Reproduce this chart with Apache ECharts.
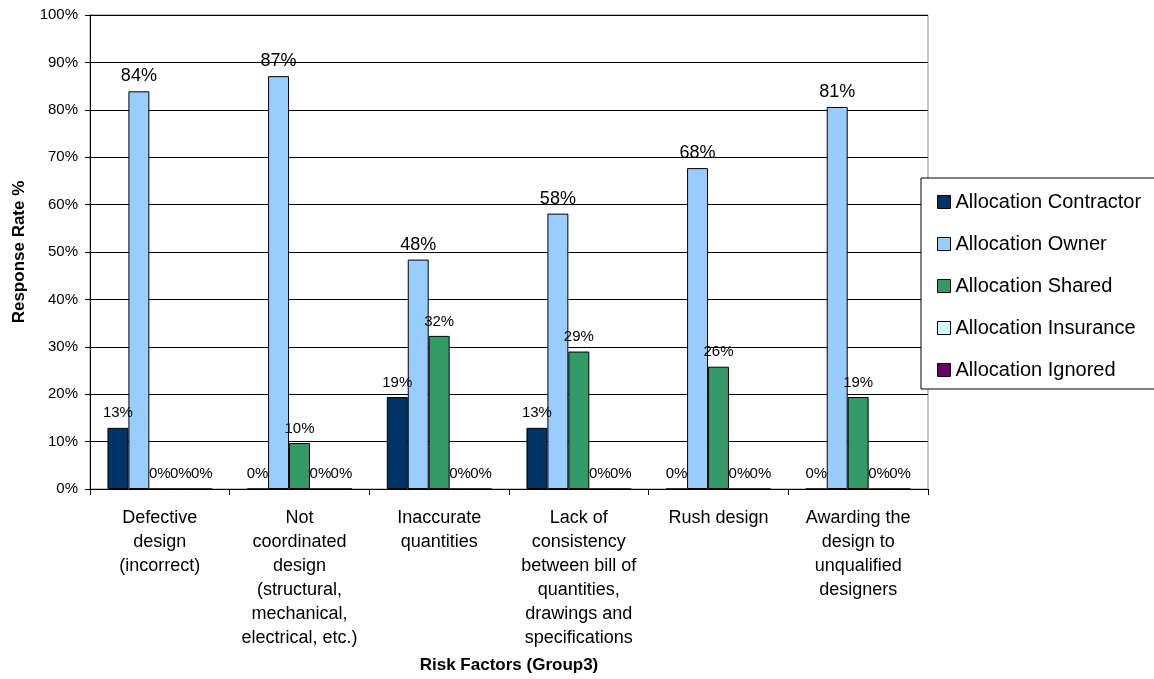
<!DOCTYPE html>
<html><head><meta charset="utf-8">
<script src="https://cdn.jsdelivr.net/npm/echarts@6/dist/echarts.min.js"></script>
<style>html,body{margin:0;padding:0;background:#fff}#c{width:1154px;height:679px}</style>
</head><body><div id="c"></div>
<script>
const categories = [
  "Defective\ndesign\n(incorrect)",
  "Not\ncoordinated\ndesign\n(structural,\nmechanical,\nelectrical, etc.)",
  "Inaccurate\nquantities",
  "Lack of\nconsistency\nbetween bill of\nquantities,\ndrawings and\nspecifications",
  "Rush design",
  "Awarding the\ndesign to\nunqualified\ndesigners"
];
const seriesNames = ["Allocation Contractor","Allocation Owner","Allocation Shared","Allocation Insurance","Allocation Ignored"];
const contractor = [12.9, 0, 19.4, 12.9, 0, 0];
const owner = [83.9, 87.1, 48.4, 58.1, 67.7, 80.6];
const shared = [0, 9.7, 32.3, 29.0, 25.8, 19.4];
const insurance = [0, 0, 0, 0, 0, 0];
const ignored = [0, 0, 0, 0, 0, 0];
const yTicks = [0,10,20,30,40,50,60,70,80,90,100];

const colors = ["#003366","#99CCFF","#339966","#CCFFFF","#660066"];
const dataSets = [contractor, owner, shared, insurance, ignored];
const font = "Liberation Sans, Arial, sans-serif";

const series = dataSets.map((d, i) => ({
  name: seriesNames[i],
  type: 'bar',
  data: d,
  barGap: '0%',
  barCategoryGap: '25%',
  itemStyle: { color: colors[i], borderColor: '#000', borderWidth: 1 },
  label: {
    show: true, position: 'top', distance: i === 1 ? 6 : 7,
    fontFamily: font, fontSize: i === 1 ? 18 : 15, color: '#000',
    formatter: p => Math.round(p.value) + '%'
  }
}));

const chart = echarts.init(document.getElementById('c'), null, {renderer: 'canvas'});
chart.setOption({
  animation: false,
  backgroundColor: '#fff',
  color: colors,
  grid: { left: 90, right: 226, top: 15, bottom: 190, show: true, borderColor: '#888', borderWidth: 1, outerBoundsMode: 'none', containLabel: false },
  legend: {
    orient: 'vertical', left: 921, top: 178,
    backgroundColor: '#fff', borderColor: '#000', borderWidth: 1,
    padding: [14, 20, 9, 16], itemGap: 22,
    itemWidth: 13, itemHeight: 13, icon: 'rect',
    itemStyle: { borderColor: '#000', borderWidth: 1 },
    textStyle: { fontFamily: font, fontSize: 20, lineHeight: 20, color: '#000' },
    data: seriesNames
  },
  xAxis: {
    type: 'category', data: categories,
    name: 'Risk Factors (Group3)', nameLocation: 'middle', nameGap: 168,
    nameTextStyle: { fontFamily: font, fontSize: 17, fontWeight: 'bold', color: '#000' },
    axisLine: { lineStyle: { color: '#000' } },
    axisTick: { show: true, length: 6, lineStyle: { color: '#000' } },
    axisLabel: { fontFamily: font, fontSize: 18, lineHeight: 24, color: '#000', margin: 17, interval: 0 }
  },
  yAxis: {
    type: 'value', min: 0, max: 100, interval: 10,
    name: 'Response Rate %', nameLocation: 'middle', nameGap: 62,
    nameTextStyle: { fontFamily: font, fontSize: 17, fontWeight: 'bold', color: '#000' },
    axisLine: { show: true, lineStyle: { color: '#000' } },
    axisTick: { show: true, length: 5, lineStyle: { color: '#000' } },
    axisLabel: { fontFamily: font, fontSize: 15, color: '#000', margin: 12, formatter: v => yTicks.includes(v) ? v + '%' : '' },
    splitLine: { show: true, lineStyle: { color: '#000', width: 1 } }
  },
  series: series
});
</script></body></html>
